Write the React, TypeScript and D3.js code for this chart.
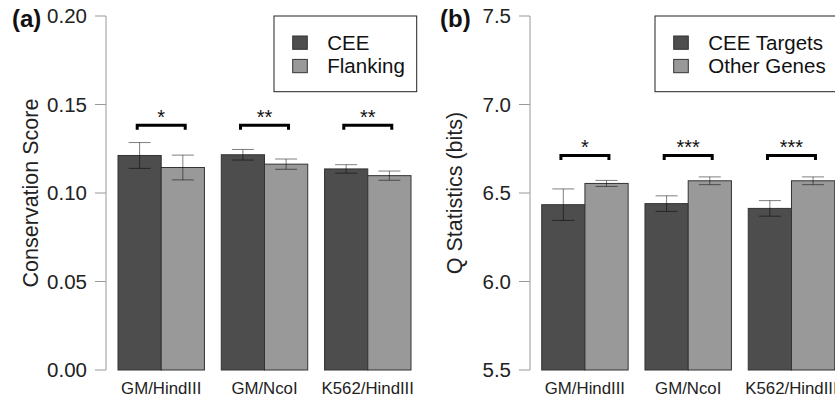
import React from "react";
import * as d3 from "d3";

const categories = ["GM/HindIII", "GM/NcoI", "K562/HindIII"];

// Panel (a): conservation score
const ceeScore = [0.1212, 0.1216, 0.1136];
const ceeErr = [0.0073, 0.003, 0.0024];
const flankScore = [0.1144, 0.1163, 0.1098];
const flankErr = [0.007, 0.0029, 0.0026];
const sigA = ["*", "**", "**"];
const bracketA = 0.1383;
const ticksA = [0, 0.05, 0.1, 0.15, 0.2];

// Panel (b): Q statistics
const targetQ = [6.434, 6.44, 6.413];
const targetErr = [0.089, 0.044, 0.044];
const otherQ = [6.554, 6.569, 6.569];
const otherErr = [0.017, 0.022, 0.022];
const sigB = ["*", "***", "***"];
const bracketB = 6.712;
const ticksB = [5.5, 6.0, 6.5, 7.0, 7.5];

const DARK = "#4d4d4d";
const LIGHT = "#999999";
const FONT = "'Liberation Sans', Arial, Helvetica, sans-serif";

type PanelProps = {
  label: string;
  labelX: number;
  axisX: number;
  xRange: [number, number];
  yDomain: [number, number];
  ticks: number[];
  tickFmt: (v: number) => string;
  title: string;
  titleX: number;
  s1: number[];
  e1: number[];
  s2: number[];
  e2: number[];
  sig: string[];
  bracket: number;
  legend: string[];
  legendBox: [number, number, number, number];
  legendSqX: number;
  legendTextX: number;
};

function Panel(p: PanelProps) {
  const y = d3.scaleLinear().domain(p.yDomain).range([370, 16]);
  const x = d3
    .scaleBand<string>()
    .domain(categories)
    .range(p.xRange)
    .paddingInner(0.163)
    .paddingOuter(0);
  const bw = x.bandwidth() / 2;
  const cap = 11;
  const base = y(p.yDomain[0]);
  const [lx, ly, lw, lh] = p.legendBox;
  return (
    <g>
      <text x={p.labelX} y={27} fontSize={24} fontWeight="bold" fill="#111" fontFamily={FONT}>
        {p.label}
      </text>
      <line x1={p.axisX} x2={p.axisX} y1={y(p.yDomain[1])} y2={base} stroke="#999" strokeWidth={1} />
      {p.ticks.map((t) => (
        <g key={t}>
          <line x1={p.axisX - 11} x2={p.axisX} y1={y(t)} y2={y(t)} stroke="#999" strokeWidth={1} />
          <text
            x={p.axisX - 19}
            y={y(t)}
            dy="0.36em"
            textAnchor="end"
            fontSize={20.5}
            fill="#222"
            fontFamily={FONT}
          >
            {p.tickFmt(t)}
          </text>
        </g>
      ))}
      <text
        transform={`translate(${p.titleX},${(y(p.yDomain[1]) + base) / 2}) rotate(-90)`}
        textAnchor="middle"
        fontSize={21.5}
        fill="#222"
        fontFamily={FONT}
      >
        {p.title}
      </text>
      {categories.map((c, i) => {
        const x0 = x(c) as number;
        const cx = x0 + bw;
        const by = y(p.bracket);
        return (
          <g key={c}>
            <rect x={x0} y={y(p.s1[i])} width={bw} height={base - y(p.s1[i])} fill={DARK} stroke="#333" strokeWidth={1} />
            <rect x={x0 + bw} y={y(p.s2[i])} width={bw} height={base - y(p.s2[i])} fill={LIGHT} stroke="#333" strokeWidth={1} />
            {[
              [x0 + bw / 2, p.s1[i], p.e1[i]],
              [x0 + bw * 1.5, p.s2[i], p.e2[i]],
            ].map(([ex, v, e], k) => (
              <g key={k} stroke="#000" strokeOpacity={0.5} strokeWidth={1}>
                <line x1={ex} x2={ex} y1={y(v + e)} y2={y(v - e)} />
                <line x1={ex - cap} x2={ex + cap} y1={y(v + e)} y2={y(v + e)} />
                <line x1={ex - cap} x2={ex + cap} y1={y(v - e)} y2={y(v - e)} />
              </g>
            ))}
            <path
              d={`M${cx - 24},${by + 4.5}V${by}H${cx + 24}V${by + 4.5}`}
              fill="none"
              stroke="#000"
              strokeWidth={3}
            />
            <text x={cx} y={by - 1} textAnchor="middle" fontSize={20} fill="#111" fontFamily={FONT}>
              {p.sig[i]}
            </text>
            <text x={cx} y={394} textAnchor="middle" fontSize={16.8} fill="#222" fontFamily={FONT}>
              {c}
            </text>
          </g>
        );
      })}
      <rect x={lx} y={ly} width={lw} height={lh} fill="white" stroke="#222" strokeWidth={1} />
      {p.legend.map((l, i) => (
        <g key={l}>
          <rect
            x={p.legendSqX}
            y={36 + i * 23.4}
            width={14.6}
            height={13.3}
            fill={i === 0 ? DARK : LIGHT}
            stroke="#333"
            strokeWidth={1}
          />
          <text x={p.legendTextX} y={49.5 + i * 23.4} fontSize={20.5} fill="#111" fontFamily={FONT}>
            {l}
          </text>
        </g>
      ))}
    </g>
  );
}

export default function App() {
  return (
    <svg
      width={835}
      height={398}
      style={{ position: "absolute", left: 0, top: 0, background: "white" }}
    >
      <rect width={835} height={398} fill="white" />
      <Panel
        label="(a)"
        labelX={12}
        axisX={106}
        xRange={[118, 411]}
        yDomain={[0, 0.2]}
        ticks={ticksA}
        tickFmt={d3.format(".2f")}
        title="Conservation Score"
        titleX={38}
        s1={ceeScore}
        e1={ceeErr}
        s2={flankScore}
        e2={flankErr}
        sig={sigA}
        bracket={bracketA}
        legend={["CEE", "Flanking"]}
        legendBox={[274, 16, 142.7, 75.7]}
        legendSqX={292.7}
        legendTextX={327.3}
      />
      <Panel
        label="(b)"
        labelX={440}
        axisX={530}
        xRange={[541.7, 834.7]}
        yDomain={[5.5, 7.5]}
        ticks={ticksB}
        tickFmt={d3.format(".1f")}
        title="Q Statistics (bits)"
        titleX={462}
        s1={targetQ}
        e1={targetErr}
        s2={otherQ}
        e2={otherErr}
        sig={sigB}
        bracket={bracketB}
        legend={["CEE Targets", "Other Genes"]}
        legendBox={[655, 16, 200, 75.7]}
        legendSqX={673.7}
        legendTextX={708.3}
      />
    </svg>
  );
}
